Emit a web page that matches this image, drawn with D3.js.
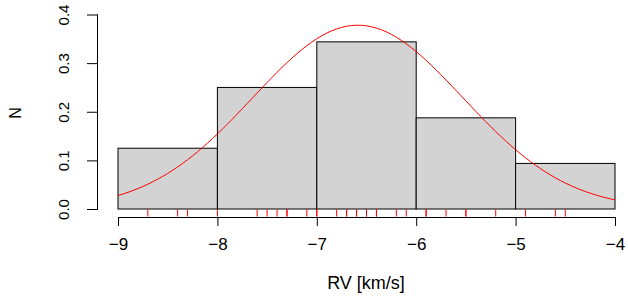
<!DOCTYPE html>
<html>
<head>
<meta charset="utf-8">
<script src="https://cdn.jsdelivr.net/npm/d3@7"></script>
<style>
  body { margin: 0; background: #fff; }
  text { font-family: "Liberation Sans", Arial, Helvetica, sans-serif; }
</style>
</head>
<body>
<div id="chart"></div>
<script>
// radial velocities (km/s)
const rv = [
  -8.7, -8.4, -8.3, -8.0,
  -7.6, -7.5, -7.4, -7.3, -7.3, -7.1, -7.0, -7.0,
  -6.8, -6.7, -6.7, -6.6, -6.6, -6.5, -6.5, -6.4, -6.4, -6.2, -6.1,
  -5.9, -5.9, -5.7, -5.5, -5.5, -5.2,
  -4.9, -4.6, -4.5
];
const breaks = [-9, -8, -7, -6, -5, -4];
const xTicks = [-9, -8, -7, -6, -5, -4];
const yTicks = [0, 0.1, 0.2, 0.3, 0.4];

const width = 628, height = 300;

const svg = d3.select('#chart').append('svg')
  .attr('width', width)
  .attr('height', height);

const x = d3.scaleLinear().domain([-9, -4]).range([118, 615]);
const y = d3.scaleLinear().domain([0, 0.4]).range([209, 14.5]);

// right-closed bins like R's hist()
const n = rv.length;
const bins = d3.pairs(breaks).map(([a, b]) => {
  const count = rv.filter(v => v > a && v <= b).length;
  return { x0: a, x1: b, density: count / (n * (b - a)) };
});

svg.append('g')
  .selectAll('rect')
  .data(bins)
  .join('rect')
  .attr('x', d => x(d.x0))
  .attr('y', d => y(d.density))
  .attr('width', d => x(d.x1) - x(d.x0))
  .attr('height', d => y(0) - y(d.density))
  .attr('fill', '#d3d3d3')
  .attr('stroke', '#000')
  .attr('stroke-width', 1);

// normal fit
const mu = d3.mean(rv), sd = d3.deviation(rv);
const dnorm = v => Math.exp(-0.5 * ((v - mu) / sd) ** 2) / (sd * Math.sqrt(2 * Math.PI));
const curve = d3.range(-9, -4.0001, 0.05).concat([-4]).map(v => [v, dnorm(v)]);

svg.append('path')
  .datum(curve)
  .attr('fill', 'none')
  .attr('stroke', '#ff0000')
  .attr('stroke-width', 1)
  .attr('d', d3.line().x(d => x(d[0])).y(d => y(d[1])));

// rug
svg.append('g')
  .selectAll('line')
  .data(rv)
  .join('line')
  .attr('x1', d => x(d)).attr('x2', d => x(d))
  .attr('y1', 209.5).attr('y2', 216.5)
  .attr('stroke', '#ff0000')
  .attr('stroke-width', 1);

// x axis
const xAxis = svg.append('g')
  .attr('transform', 'translate(0,217)')
  .call(d3.axisBottom(x).tickValues(xTicks).tickSize(9).tickPadding(12)
    .tickFormat(d => String(d).replace('-', '\u2212')));
xAxis.select('.domain').attr('d', `M${x(-9)},0.5H${x(-4)}`);
xAxis.selectAll('text').attr('font-size', 17).attr('fill', '#000');

// y axis
const yAxis = svg.append('g')
  .attr('transform', 'translate(98,0)')
  .call(d3.axisLeft(y).tickValues(yTicks).tickSize(11).tickFormat(d3.format('.1f')));
yAxis.select('.domain').attr('d', `M-0.5,${y(0)}V${y(0.4)}`);
yAxis.selectAll('.tick text')
  .attr('font-size', 15)
  .attr('fill', '#000')
  .attr('text-anchor', 'middle')
  .attr('dy', null)
  .attr('x', null)
  .attr('transform', 'translate(-34,0) rotate(-90)')
  .attr('y', 5);

// titles
svg.append('text')
  .attr('x', 366).attr('y', 289)
  .attr('text-anchor', 'middle')
  .attr('font-size', 18)
  .text('RV [km/s]');

svg.append('text')
  .attr('transform', 'translate(21,113) rotate(-90)')
  .attr('text-anchor', 'middle')
  .attr('font-size', 16)
  .text('N');
</script>
</body>
</html>
